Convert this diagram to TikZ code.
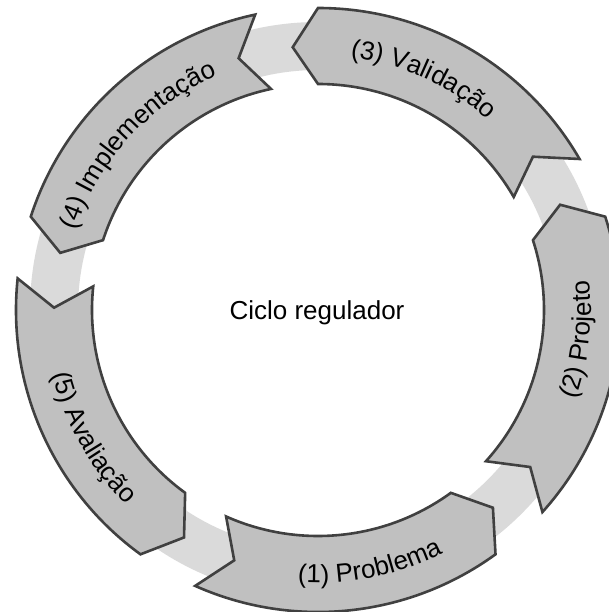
\documentclass[tikz,border=0pt]{standalone}
\usepackage{fontspec}
\setmainfont{Liberation Sans}
\usetikzlibrary{decorations.text}
\definecolor{ringgray}{HTML}{DADADA}
\definecolor{segfill}{HTML}{C0C0C0}
\definecolor{segline}{HTML}{404040}
\newcommand{\lblfont}{\fontsize{26pt}{31pt}\selectfont}
\tikzset{
  ringband/.style={draw=ringgray, line width=48pt},
  segshape/.style={fill=segfill, draw=segline, line width=2.6pt, line join=miter},
  centerlabel/.style={font=\lblfont, anchor=base, inner sep=0pt},
}
\begin{document}
\begin{tikzpicture}
\useasboundingbox (-318pt,-302pt) rectangle (291pt,310pt);
\clip (-318pt,-302pt) rectangle (291pt,310pt);
\draw[ringband] (0,0) circle[radius=264pt];
\foreach \a in {-114,-42,30,102,174}{
  \pgfmathsetmacro\b{\a+60}
  \pgfmathsetmacro\bt{\a+65.5}
  \pgfmathsetmacro\at{\a+5.5}
  \draw[segshape] (\a:302pt) arc[start angle=\a, end angle=\b, radius=302pt]
     -- (\bt:264pt) -- (\b:226pt)
     arc[start angle=\b, end angle=\a, radius=226pt]
     -- (\at:264pt) -- cycle;
}
% counterclockwise labels (bottom / sides)
\foreach \m/\t in {-78.5/(1) Problema, -6.5/(2) Projeto, 209.5/(5) Avaliação}{
  \pgfmathsetmacro\s{\m-50}
  \pgfmathsetmacro\e{\m+50}
  \path[decorate, decoration={text along path, text align=center,
      text={|\lblfont|\t}}]
    (\s:273pt) arc[start angle=\s, end angle=\e, radius=273pt];
}
% clockwise labels (top)
\foreach \m/\t in {65.5/(3) Validação, 137.5/(4) Implementação}{
  \pgfmathsetmacro\s{\m+55}
  \pgfmathsetmacro\e{\m-55}
  \path[decorate, decoration={text along path, text align=center,
      text={|\lblfont|\t}}]
    (\s:255pt) arc[start angle=\s, end angle=\e, radius=255pt];
}
\node[centerlabel] (centro) at (-1pt,-9.3pt) {Ciclo regulador};
\end{tikzpicture}
\end{document}
